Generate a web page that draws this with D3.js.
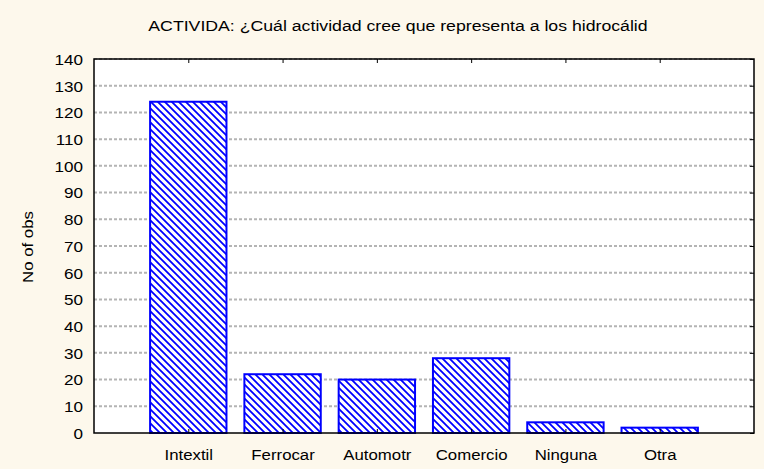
<!DOCTYPE html>
<html>
<head>
<meta charset="utf-8">
<script src="https://cdn.jsdelivr.net/npm/d3@7"></script>
<style>
  body { margin: 0; background: #fdf8ec; }
  text { font-family: "Liberation Sans", Arial, sans-serif; fill: #000; }
</style>
</head>
<body>
<script>
// values
var categories = ["Intextil", "Ferrocar", "Automotr", "Comercio", "Ninguna", "Otra"];
var counts = [124, 22, 20, 28, 4, 2];
var yTicks = [0, 10, 20, 30, 40, 50, 60, 70, 80, 90, 100, 110, 120, 130, 140];

var w = 764, h = 469;
var pLeft = 94, pRight = 754, pTop = 59, pBottom = 433;

var svg = d3.select("body").append("svg")
    .attr("width", w)
    .attr("height", h);

// blue "\" hatch
var defs = svg.append("defs");
var pat = defs.append("pattern")
    .attr("id", "hatch")
    .attr("patternUnits", "userSpaceOnUse")
    .attr("width", 7)
    .attr("height", 7);
pat.append("rect").attr("width", 7).attr("height", 7).attr("fill", "#fff");
pat.append("path")
    .attr("d", "M0,0 L7,7 M-1,6 L1,8 M6,-1 L8,1")
    .attr("stroke", "#0000ff")
    .attr("stroke-width", 1.8);

var xScale = d3.scaleLinear().domain([0, categories.length + 1]).range([pLeft, pRight]);
var yScale = d3.scaleLinear().domain([0, 140]).range([pBottom, pTop]);

// plot area
svg.append("rect")
    .attr("x", pLeft).attr("y", pTop)
    .attr("width", pRight - pLeft).attr("height", pBottom - pTop)
    .attr("fill", "#fff");

// grid
svg.selectAll(".grid")
    .data(yTicks.filter(function (d) { return d > 0; }))
    .enter().append("line")
    .attr("class", "grid")
    .attr("x1", pLeft).attr("x2", pRight)
    .attr("y1", function (d) { return yScale(d); })
    .attr("y2", function (d) { return yScale(d); })
    .attr("stroke", "#b4b4b4")
    .attr("stroke-width", 2)
    .attr("stroke-dasharray", "3,2");

// bars
var bw = 0.81;
svg.selectAll(".bar")
    .data(counts)
    .enter().append("rect")
    .attr("class", "bar")
    .attr("x", function (d, i) { return xScale(i + 1 - bw / 2); })
    .attr("y", function (d) { return yScale(d); })
    .attr("width", xScale(bw) - xScale(0))
    .attr("height", function (d) { return yScale(0) - yScale(d); })
    .attr("fill", "url(#hatch)")
    .attr("stroke", "#0000ff")
    .attr("stroke-width", 2);

// frame
svg.append("rect")
    .attr("x", pLeft).attr("y", pTop)
    .attr("width", pRight - pLeft).attr("height", pBottom - pTop)
    .attr("fill", "none")
    .attr("stroke", "#000")
    .attr("stroke-width", 1.5);

// y axis labels (left), ticks on the right edge
var yAxis = d3.axisLeft(yScale).tickValues(yTicks).tickSize(0).tickPadding(11);
var gy = svg.append("g")
    .attr("transform", "translate(" + pLeft + ",0)")
    .call(yAxis);
gy.select(".domain").remove();
gy.selectAll("text")
    .style("font-size", "15px")
    .attr("dy", "0.36em")
    .attr("transform", "translate(-11,0) scale(1.14,1) translate(11,0)");

svg.append("g")
    .attr("transform", "translate(" + pRight + ",0)")
    .call(d3.axisLeft(yScale).tickValues(yTicks).tickSize(4).tickFormat(""))
    .select(".domain").remove();

// x axis
var xAxis = d3.axisBottom(xScale)
    .tickValues(d3.range(1, categories.length + 1))
    .tickSize(0)
    .tickPadding(16)
    .tickFormat(function (d) { return categories[d - 1]; });
var gx = svg.append("g")
    .attr("transform", "translate(0," + pBottom + ")")
    .call(xAxis);
gx.select(".domain").remove();
gx.selectAll("text")
    .style("font-size", "15px")
    .attr("transform", "scale(1.12,1)");

svg.append("g")
    .attr("transform", "translate(0," + pBottom + ")")
    .call(d3.axisTop(xScale).tickValues(d3.range(1, categories.length + 1)).tickSize(4).tickFormat(""))
    .select(".domain").remove();
svg.append("g")
    .attr("transform", "translate(0," + pTop + ")")
    .call(d3.axisBottom(xScale).tickValues(d3.range(1, categories.length + 1)).tickSize(4).tickFormat(""))
    .select(".domain").remove();

// title
svg.append("text")
    .attr("x", 398)
    .attr("y", 31)
    .attr("text-anchor", "middle")
    .style("font-size", "15px")
    .attr("transform", "translate(398,0) scale(1.18,1) translate(-398,0)")
    .text("ACTIVIDA: ¿Cuál actividad cree que representa a los hidrocálid");

svg.append("text")
    .attr("transform", "translate(33,247) rotate(-90) scale(1.12,1)")
    .attr("text-anchor", "middle")
    .style("font-size", "15px")
    .text("No of obs");
</script>
</body>
</html>
